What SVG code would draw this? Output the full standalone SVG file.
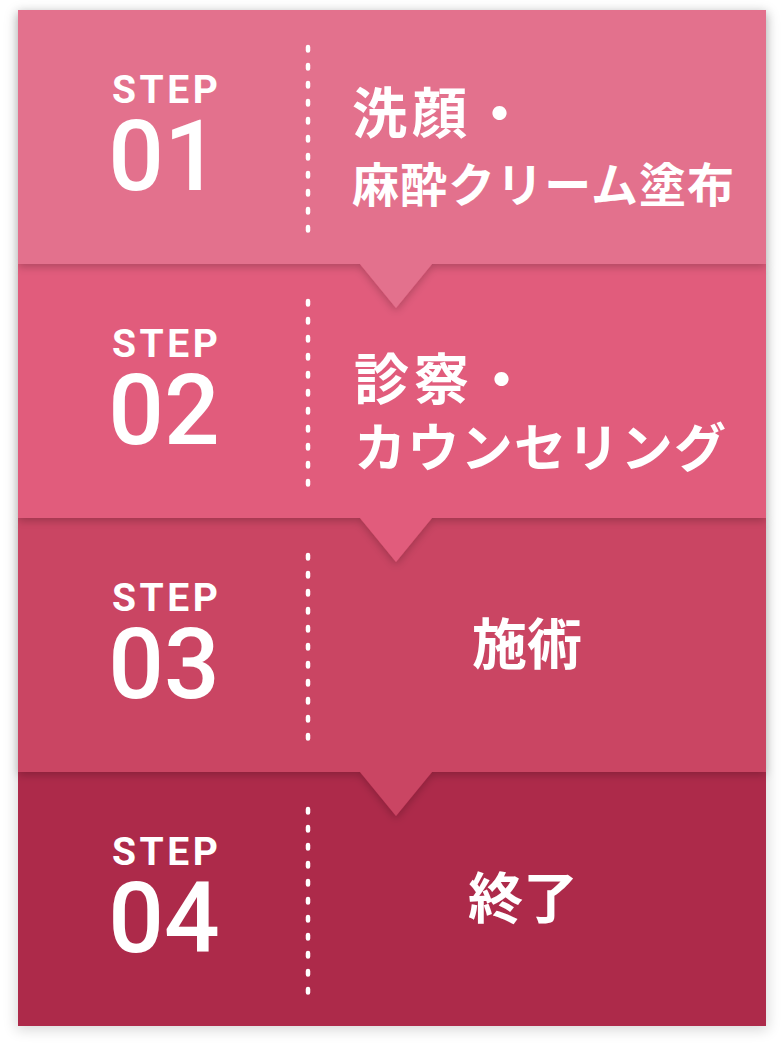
<svg xmlns="http://www.w3.org/2000/svg" width="784" height="1053" viewBox="0 0 784 1053">
<defs>
<style>
.step{font-family:Roboto,"Liberation Sans",sans-serif;font-weight:700;font-size:39px;fill:#fff;text-anchor:middle}
.num{font-family:Roboto,"Liberation Sans",sans-serif;font-weight:500;font-size:98px;fill:#fff;text-anchor:middle}
.jp{font-family:"Noto Sans CJK JP","Noto Sans",sans-serif;font-weight:700;fill:#fff}
.dots{stroke:#fff;stroke-width:4.5;stroke-linecap:round;stroke-dasharray:3.5 14.5;fill:none}
</style>
<filter id="sh" x="-10%" y="-10%" width="120%" height="130%">
<feDropShadow dx="0" dy="3" stdDeviation="4" flood-color="#000" flood-opacity="0.22"/>
</filter>
<filter id="outer" x="-10%" y="-10%" width="120%" height="120%">
<feGaussianBlur stdDeviation="7"/>
</filter>
</defs>
<rect x="0" y="0" width="784" height="1053" fill="#fff"/>
<rect x="16" y="12" width="752" height="1018" fill="#000" opacity="0.15" filter="url(#outer)"/>
<g id="step4">
<rect x="18" y="772" width="748" height="254" fill="#ad2a4a"/>
<line class="dots" x1="308" y1="809" x2="308" y2="993"/>
<text class="step" x="165" y="865" textLength="106" lengthAdjust="spacing">STEP</text>
<text class="num" x="164" y="952">04</text>
<text class="jp" x="523" y="918" font-size="55" text-anchor="middle">終了</text>
</g>
<g id="step3" filter="url(#sh)">
<path d="M18 518H766V772H432L396 816L360 772H18Z" fill="#ca4463"/>
</g>
<g id="step3-content">
<line class="dots" x1="308" y1="555" x2="308" y2="739"/>
<text class="step" x="165" y="611" textLength="106" lengthAdjust="spacing">STEP</text>
<text class="num" x="164" y="698">03</text>
<text class="jp" x="527" y="664" font-size="55" text-anchor="middle">施術</text>
</g>
<g id="step2" filter="url(#sh)">
<path d="M18 264H766V518H432L396 562L360 518H18Z" fill="#e15c7c"/>
</g>
<g id="step2-content">
<line class="dots" x1="308" y1="301" x2="308" y2="485"/>
<text class="step" x="165" y="357" textLength="106" lengthAdjust="spacing">STEP</text>
<text class="num" x="164" y="444">02</text>
<text class="jp" x="354" y="399" font-size="55" letter-spacing="5">診察・</text>
<text class="jp" x="354" y="467" font-size="52" textLength="372" lengthAdjust="spacing">カウンセリング</text>
</g>
<g id="step1" filter="url(#sh)">
<path d="M18 10H766V264H432L396 308L360 264H18Z" fill="#e3718d"/>
</g>
<g id="step1-content">
<line class="dots" x1="308" y1="47" x2="308" y2="231"/>
<text class="step" x="165" y="103" textLength="106" lengthAdjust="spacing">STEP</text>
<text class="num" x="164" y="190">01</text>
<text class="jp" x="352" y="133" font-size="55" letter-spacing="5">洗顔・</text>
<text class="jp" x="352" y="202" font-size="47" textLength="382" lengthAdjust="spacing">麻酔クリーム塗布</text>
</g>
</svg>
